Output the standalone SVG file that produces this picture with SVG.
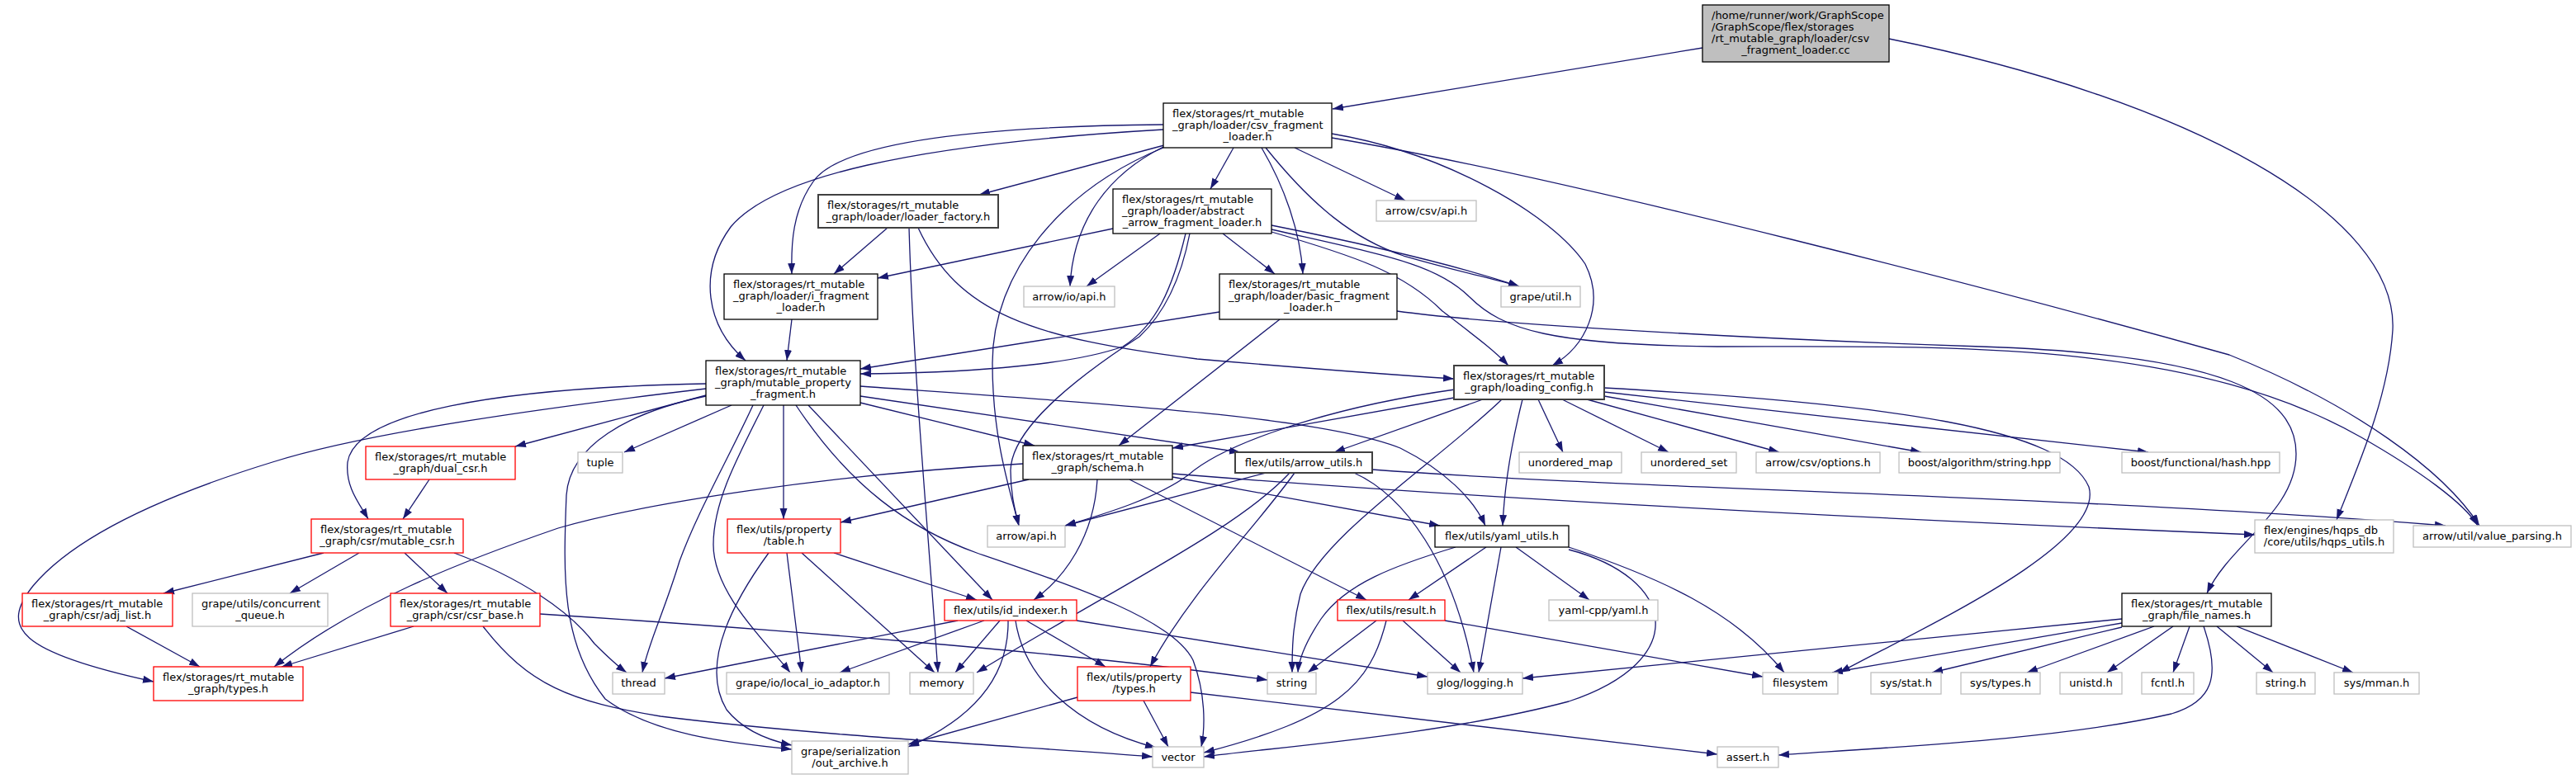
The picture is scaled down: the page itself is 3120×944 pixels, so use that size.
<svg xmlns="http://www.w3.org/2000/svg" width="3120" height="944" viewBox="0 0 3120 944">
<defs>
<style>
rect{fill:#fff;stroke:#000;stroke-width:1.3}
.g rect{stroke:#bfbfbf}
.r rect{stroke:#ff0000}
.d rect{stroke:#404040;stroke-width:2}
.root rect{fill:#bfbfbf}
text{font-family:"DejaVu Sans","Liberation Sans",sans-serif;font-size:13px;fill:#000}
.m{text-anchor:middle}
#edges path{fill:none;stroke:#191970;stroke-width:1.3;marker-end:url(#a)}
</style>
<marker id="a" markerUnits="userSpaceOnUse" markerWidth="14" markerHeight="10" refX="13" refY="5" orient="auto"><path d="M0,0.5 L13,5 L0,9.5 z" fill="#191970"/></marker>
</defs>
<rect x="0" y="0" width="3120" height="944" style="fill:#fff;stroke:none"/>
<g id="edges">
<path d="M2062,58 L1614,132"/>
<path d="M2288,47 C2650,120 2905,260 2898,400 C2893,480 2858,560 2830,630"/>
<path d="M1410,176 L1186,236"/>
<path d="M1494,179 L1466,229"/>
<path d="M1568,179 L1702,243"/>
<path d="M1409,151 C1200,153 1020,170 985,220 C960,255 958,295 959,332"/>
<path d="M1409,157 C1100,175 935,215 885,275 C845,330 855,395 903,437"/>
<path d="M1409,178 C1345,210 1300,265 1296,347"/>
<path d="M1409,179 C1285,230 1202,330 1202,440 C1202,530 1222,590 1234,637"/>
<path d="M1528,179 C1555,225 1575,280 1578,332"/>
<path d="M1533,179 C1590,250 1640,290 1700,310 C1770,330 1810,338 1840,347"/>
<path d="M1613,162 C1750,185 1880,260 1920,320 C1945,370 1920,420 1880,443"/>
<path d="M1613,167 C1900,215 2450,360 2700,430 C2850,490 2960,570 3003,637"/>
<path d="M1075,276 L1010,332"/>
<path d="M1101,276 C1106,450 1125,650 1136,815"/>
<path d="M1112,276 C1160,380 1250,410 1450,435 C1600,448 1700,455 1761,459"/>
<path d="M1348,277 L1063,337"/>
<path d="M1405,283 L1316,347"/>
<path d="M1481,283 L1544,332"/>
<path d="M1436,283 C1420,350 1400,395 1360,420 C1290,445 1150,452 1042,453"/>
<path d="M1441,283 C1430,340 1410,380 1380,408 C1300,460 1225,520 1224,570 C1224,600 1230,620 1234,637"/>
<path d="M1540,281 C1640,310 1700,330 1747,377 C1790,410 1810,425 1827,443"/>
<path d="M1540,273 C1650,295 1760,320 1840,347"/>
<path d="M1540,278 C1680,310 1740,320 1780,360 C1820,400 1880,418 2080,420 C2350,420 2650,410 2860,530 C2930,570 2985,610 3001,637"/>
<path d="M1477,378 L1042,447"/>
<path d="M1550,387 L1355,540"/>
<path d="M1692,377 C1800,392 2100,410 2400,420 C2700,430 2781,480 2781,550 C2781,620 2700,660 2673,719"/>
<path d="M959,387 L953,437"/>
<path d="M855,465 C600,470 430,500 421,560 C418,590 435,610 446,629"/>
<path d="M855,471 C650,495 440,525 330,560 C200,600 90,650 40,710 C0,760 20,790 186,826"/>
<path d="M855,480 C760,500 690,540 686,600 C682,700 680,780 733,847 C790,890 880,900 959,908"/>
<path d="M855,479 L624,541"/>
<path d="M886,491 L756,548"/>
<path d="M912,491 C880,560 845,620 823,680 C805,740 785,780 778,815"/>
<path d="M925,491 C890,560 864,610 864,660 C864,720 930,780 957,815"/>
<path d="M949,491 L949,629"/>
<path d="M979,491 L1202,727"/>
<path d="M964,491 C1030,590 1100,640 1183,670 C1300,710 1420,750 1445,800 C1460,840 1460,880 1455,905"/>
<path d="M1042,468 C1350,490 1600,505 1696,543 C1750,570 1785,605 1799,637"/>
<path d="M1042,480 L1502,548"/>
<path d="M1042,488 L1253,540"/>
<path d="M520,581 L488,629"/>
<path d="M1239,562 C1000,575 780,610 676,640 C560,680 430,730 332,808"/>
<path d="M1246,581 L1018,633"/>
<path d="M1329,581 C1325,650 1290,700 1252,727"/>
<path d="M1368,581 L1655,727"/>
<path d="M1420,578 L1744,637"/>
<path d="M1420,574 C1800,605 2300,630 2731,648"/>
<path d="M1533,573 L1290,637"/>
<path d="M1562,573 C1500,640 1360,707 1183,815"/>
<path d="M1568,573 C1520,640 1440,720 1393,808"/>
<path d="M1640,573 C1700,600 1760,680 1785,815"/>
<path d="M1662,569 C1980,593 2500,600 2962,637"/>
<path d="M1761,482 L1420,543"/>
<path d="M1762,472 C1600,495 1480,540 1440,575 C1400,605 1330,625 1290,637"/>
<path d="M1796,484 L1616,548"/>
<path d="M1819,484 C1740,560 1600,650 1575,720 C1565,760 1565,790 1565,815"/>
<path d="M1844,484 C1830,540 1822,590 1820,637"/>
<path d="M1863,484 L1893,548"/>
<path d="M1892,484 L2021,548"/>
<path d="M1922,484 L2155,548"/>
<path d="M1943,480 L2327,548"/>
<path d="M1943,475 L2602,548"/>
<path d="M1943,470 C2300,490 2500,520 2530,590 C2550,660 2330,760 2228,815"/>
<path d="M392,670 L198,719"/>
<path d="M435,670 L351,719"/>
<path d="M490,670 L542,719"/>
<path d="M550,670 C630,700 690,740 720,780 C740,800 752,810 759,815"/>
<path d="M153,759 L242,808"/>
<path d="M501,759 L341,808"/>
<path d="M654,744 C900,760 1300,790 1535,824"/>
<path d="M585,759 C640,830 690,850 800,868 C1000,893 1250,905 1396,917"/>
<path d="M1010,670 L1183,727"/>
<path d="M971,670 L1132,815"/>
<path d="M953,670 L971,815"/>
<path d="M931,670 C880,740 850,810 880,860 C900,885 930,897 959,903"/>
<path d="M1160,752 L805,822"/>
<path d="M1192,752 L1017,815"/>
<path d="M1211,752 L1157,815"/>
<path d="M1221,752 C1222,820 1180,870 1100,905"/>
<path d="M1230,752 C1240,820 1300,880 1400,906"/>
<path d="M1243,752 L1339,808"/>
<path d="M1304,752 L1729,820"/>
<path d="M1305,845 L1100,902"/>
<path d="M1385,849 L1415,905"/>
<path d="M1442,839 L2080,914"/>
<path d="M1667,752 L1584,815"/>
<path d="M1679,752 C1660,830 1620,870 1458,912"/>
<path d="M1699,752 L1769,815"/>
<path d="M1750,752 L2135,820"/>
<path d="M1800,663 L1706,727"/>
<path d="M1763,663 C1690,685 1630,707 1600,750 C1580,780 1573,800 1572,815"/>
<path d="M1818,663 L1791,815"/>
<path d="M1836,663 L1925,727"/>
<path d="M1900,663 C2010,700 2100,740 2161,815"/>
<path d="M1900,666 C2030,700 2050,800 1900,850 C1750,890 1550,905 1458,917"/>
<path d="M2570,750 L1844,822"/>
<path d="M2570,755 L2219,815"/>
<path d="M2570,760 L2340,815"/>
<path d="M2609,759 L2455,815"/>
<path d="M2632,759 L2552,815"/>
<path d="M2652,759 L2632,815"/>
<path d="M2669,759 C2690,820 2680,850 2630,865 C2500,895 2300,905 2154,915"/>
<path d="M2685,759 L2753,815"/>
<path d="M2709,759 L2850,815"/>
</g>
<g id="n0" class="root"><rect x="2062" y="6" width="226" height="69"/><text x="2073" y="22.5">/home/runner/work/GraphScope</text><text x="2073" y="36.5">/GraphScope/flex/storages</text><text x="2073" y="50.5">/rt_mutable_graph/loader/csv</text><text class="m" x="2175" y="64.5">_fragment_loader.cc</text></g>
<g id="n1"><rect x="1409" y="125" width="204" height="54"/><text x="1420" y="141.5">flex/storages/rt_mutable</text><text x="1420" y="155.5">_graph/loader/csv_fragment</text><text class="m" x="1511" y="169.5">_loader.h</text></g>
<g id="n2" class="d"><rect x="991" y="236" width="218" height="40"/><text x="1002" y="252.5">flex/storages/rt_mutable</text><text class="m" x="1100" y="266.5">_graph/loader/loader_factory.h</text></g>
<g id="n3"><rect x="1348" y="229" width="192" height="54"/><text x="1359" y="245.5">flex/storages/rt_mutable</text><text x="1359" y="259.5">_graph/loader/abstract</text><text class="m" x="1444" y="273.5">_arrow_fragment_loader.h</text></g>
<g id="n4" class="g"><rect x="1667" y="243" width="121" height="25"/><text class="m" x="1727.5" y="259.5">arrow/csv/api.h</text></g>
<g id="n5"><rect x="877" y="332" width="186" height="55"/><text x="888" y="348.5">flex/storages/rt_mutable</text><text x="888" y="362.5">_graph/loader/i_fragment</text><text class="m" x="970" y="376.5">_loader.h</text></g>
<g id="n6" class="g"><rect x="1240" y="347" width="110" height="25"/><text class="m" x="1295" y="363.5">arrow/io/api.h</text></g>
<g id="n7"><rect x="1477" y="332" width="215" height="55"/><text x="1488" y="348.5">flex/storages/rt_mutable</text><text x="1488" y="362.5">_graph/loader/basic_fragment</text><text class="m" x="1584.5" y="376.5">_loader.h</text></g>
<g id="n8" class="g"><rect x="1818" y="347" width="96" height="25"/><text class="m" x="1866" y="363.5">grape/util.h</text></g>
<g id="n9"><rect x="855" y="437" width="187" height="54"/><text x="866" y="453.5">flex/storages/rt_mutable</text><text x="866" y="467.5">_graph/mutable_property</text><text class="m" x="948.5" y="481.5">_fragment.h</text></g>
<g id="n10" class="d"><rect x="1761" y="443" width="182" height="41"/><text x="1772" y="459.5">flex/storages/rt_mutable</text><text class="m" x="1852" y="473.5">_graph/loading_config.h</text></g>
<g id="n11" class="r"><rect x="443" y="541" width="181" height="40"/><text x="454" y="557.5">flex/storages/rt_mutable</text><text class="m" x="533.5" y="571.5">_graph/dual_csr.h</text></g>
<g id="n12" class="g"><rect x="700" y="548" width="54" height="25"/><text class="m" x="727" y="564.5">tuple</text></g>
<g id="n13"><rect x="1239" y="540" width="181" height="41"/><text x="1250" y="556.5">flex/storages/rt_mutable</text><text class="m" x="1329.5" y="570.5">_graph/schema.h</text></g>
<g id="n14" class="d"><rect x="1496" y="548" width="166" height="25"/><text class="m" x="1579" y="564.5">flex/utils/arrow_utils.h</text></g>
<g id="n15" class="g"><rect x="1840" y="548" width="124" height="25"/><text class="m" x="1902" y="564.5">unordered_map</text></g>
<g id="n16" class="g"><rect x="1988" y="548" width="115" height="25"/><text class="m" x="2045.5" y="564.5">unordered_set</text></g>
<g id="n17" class="g"><rect x="2127" y="548" width="150" height="25"/><text class="m" x="2202" y="564.5">arrow/csv/options.h</text></g>
<g id="n18" class="g"><rect x="2300" y="548" width="195" height="25"/><text class="m" x="2397.5" y="564.5">boost/algorithm/string.hpp</text></g>
<g id="n19" class="g"><rect x="2570" y="548" width="191" height="25"/><text class="m" x="2665.5" y="564.5">boost/functional/hash.hpp</text></g>
<g id="n20" class="r"><rect x="377" y="629" width="184" height="41"/><text x="388" y="645.5">flex/storages/rt_mutable</text><text class="m" x="469" y="659.5">_graph/csr/mutable_csr.h</text></g>
<g id="n21" class="r"><rect x="881" y="629" width="137" height="41"/><text x="892" y="645.5">flex/utils/property</text><text class="m" x="949.5" y="659.5">/table.h</text></g>
<g id="n22" class="g"><rect x="1196" y="637" width="94" height="26"/><text class="m" x="1243" y="654">arrow/api.h</text></g>
<g id="n23"><rect x="1738" y="637" width="162" height="26"/><text class="m" x="1819" y="654">flex/utils/yaml_utils.h</text></g>
<g id="n24" class="g"><rect x="2731" y="630" width="168" height="40"/><text x="2742" y="646.5">flex/engines/hqps_db</text><text class="m" x="2815" y="660.5">/core/utils/hqps_utils.h</text></g>
<g id="n25" class="g"><rect x="2923" y="637" width="191" height="26"/><text class="m" x="3018.5" y="654">arrow/util/value_parsing.h</text></g>
<g id="n26" class="r"><rect x="27" y="719" width="182" height="40"/><text x="38" y="735.5">flex/storages/rt_mutable</text><text class="m" x="118" y="749.5">_graph/csr/adj_list.h</text></g>
<g id="n27" class="g"><rect x="233" y="719" width="164" height="40"/><text x="244" y="735.5">grape/utils/concurrent</text><text class="m" x="315" y="749.5">_queue.h</text></g>
<g id="n28" class="r"><rect x="473" y="719" width="181" height="40"/><text x="484" y="735.5">flex/storages/rt_mutable</text><text class="m" x="563.5" y="749.5">_graph/csr/csr_base.h</text></g>
<g id="n29" class="r"><rect x="1144" y="727" width="160" height="25"/><text class="m" x="1224" y="743.5">flex/utils/id_indexer.h</text></g>
<g id="n30" class="r"><rect x="1620" y="727" width="130" height="25"/><text class="m" x="1685" y="743.5">flex/utils/result.h</text></g>
<g id="n31" class="g"><rect x="1876" y="727" width="132" height="25"/><text class="m" x="1942" y="743.5">yaml-cpp/yaml.h</text></g>
<g id="n32"><rect x="2570" y="719" width="181" height="40"/><text x="2581" y="735.5">flex/storages/rt_mutable</text><text class="m" x="2660.5" y="749.5">_graph/file_names.h</text></g>
<g id="n33" class="r"><rect x="186" y="808" width="181" height="41"/><text x="197" y="824.5">flex/storages/rt_mutable</text><text class="m" x="276.5" y="838.5">_graph/types.h</text></g>
<g id="n34" class="g"><rect x="742" y="815" width="63" height="26"/><text class="m" x="773.5" y="832">thread</text></g>
<g id="n35" class="g"><rect x="880" y="815" width="197" height="26"/><text class="m" x="978.5" y="832">grape/io/local_io_adaptor.h</text></g>
<g id="n36" class="g"><rect x="1102" y="815" width="77" height="26"/><text class="m" x="1140.5" y="832">memory</text></g>
<g id="n37" class="r"><rect x="1305" y="808" width="137" height="41"/><text x="1316" y="824.5">flex/utils/property</text><text class="m" x="1373.5" y="838.5">/types.h</text></g>
<g id="n38" class="g"><rect x="1535" y="815" width="59" height="26"/><text class="m" x="1564.5" y="832">string</text></g>
<g id="n39" class="g"><rect x="1729" y="815" width="115" height="26"/><text class="m" x="1786.5" y="832">glog/logging.h</text></g>
<g id="n40" class="g"><rect x="2135" y="815" width="91" height="26"/><text class="m" x="2180.5" y="832">filesystem</text></g>
<g id="n41" class="g"><rect x="2266" y="815" width="85" height="26"/><text class="m" x="2308.5" y="832">sys/stat.h</text></g>
<g id="n42" class="g"><rect x="2375" y="815" width="96" height="26"/><text class="m" x="2423" y="832">sys/types.h</text></g>
<g id="n43" class="g"><rect x="2495" y="815" width="75" height="26"/><text class="m" x="2532.5" y="832">unistd.h</text></g>
<g id="n44" class="g"><rect x="2594" y="815" width="63" height="26"/><text class="m" x="2625.5" y="832">fcntl.h</text></g>
<g id="n45" class="g"><rect x="2733" y="815" width="71" height="26"/><text class="m" x="2768.5" y="832">string.h</text></g>
<g id="n46" class="g"><rect x="2827" y="815" width="103" height="26"/><text class="m" x="2878.5" y="832">sys/mman.h</text></g>
<g id="n47" class="g"><rect x="959" y="898" width="141" height="40"/><text x="970" y="914.5">grape/serialization</text><text class="m" x="1029.5" y="928.5">/out_archive.h</text></g>
<g id="n48" class="g"><rect x="1396" y="905" width="62" height="25"/><text class="m" x="1427" y="921.5">vector</text></g>
<g id="n49" class="g"><rect x="2080" y="905" width="74" height="25"/><text class="m" x="2117" y="921.5">assert.h</text></g>
</svg>
